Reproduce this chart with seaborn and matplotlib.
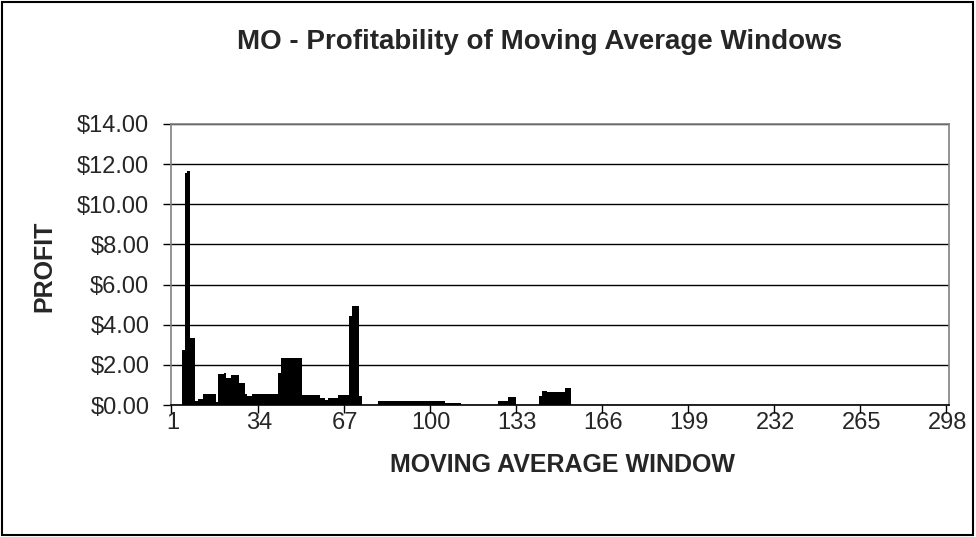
import matplotlib
matplotlib.use('Agg')
import matplotlib.pyplot as plt
import seaborn as sns
from matplotlib.patches import Rectangle
from matplotlib.ticker import FuncFormatter

# moving average window (category axis 1..298)
windows = list(range(1, 299))

# profit per window
profit = [
    0.00, 0.00, 0.00, 0.00, 2.75, 11.55, 11.65, 3.35, 3.35, 0.21,
    0.31, 0.31, 0.54, 0.54, 0.54, 0.54, 0.54, 0.15, 1.53, 1.53,
    1.58, 1.34, 1.34, 1.50, 1.50, 1.50, 1.12, 1.12, 0.54, 0.44,
    0.44, 0.54, 0.54, 0.54, 0.54, 0.54, 0.54, 0.54, 0.54, 0.54,
    0.54, 1.60, 2.33, 2.33, 2.33, 2.33, 2.33, 2.33, 2.33, 2.33,
    0.52, 0.52, 0.52, 0.52, 0.52, 0.52, 0.52, 0.35, 0.35, 0.24,
    0.35, 0.35, 0.35, 0.35, 0.52, 0.52, 0.52, 0.52, 4.45, 4.95,
    4.95, 4.95, 0.46, 0.00, 0.00, 0.00, 0.00, 0.00, 0.00, 0.22,
    0.22, 0.22, 0.22, 0.22, 0.22, 0.22, 0.22, 0.22, 0.22, 0.22,
    0.22, 0.22, 0.22, 0.22, 0.22, 0.22, 0.22, 0.22, 0.22, 0.22,
    0.22, 0.22, 0.22, 0.22, 0.22, 0.12, 0.12, 0.12, 0.12, 0.12,
    0.12, 0.00, 0.00, 0.00, 0.00, 0.00, 0.00, 0.00, 0.00, 0.00,
    0.00, 0.00, 0.00, 0.00, 0.00, 0.21, 0.21, 0.21, 0.21, 0.40,
    0.40, 0.40, 0.00, 0.00, 0.00, 0.00, 0.00, 0.00, 0.00, 0.00,
    0.00, 0.45, 0.68, 0.68, 0.63, 0.63, 0.63, 0.63, 0.63, 0.63,
    0.63, 0.87, 0.87, 0.00, 0.00, 0.00, 0.00, 0.00, 0.00, 0.00,
    0, 0, 0, 0, 0, 0, 0, 0, 0, 0, 0, 0, 0, 0, 0, 0, 0, 0, 0, 0,
    0, 0, 0, 0, 0, 0, 0, 0, 0, 0, 0, 0, 0, 0, 0, 0, 0, 0, 0, 0,
    0, 0, 0, 0, 0, 0, 0, 0, 0, 0, 0, 0, 0, 0, 0, 0, 0, 0, 0, 0,
    0, 0, 0, 0, 0, 0, 0, 0, 0, 0, 0, 0, 0, 0, 0, 0, 0, 0, 0, 0,
    0, 0, 0, 0, 0, 0, 0, 0, 0, 0, 0, 0, 0, 0, 0, 0, 0, 0, 0, 0,
    0, 0, 0, 0, 0, 0, 0, 0, 0, 0, 0, 0, 0, 0, 0, 0, 0, 0, 0, 0,
    0, 0, 0, 0, 0, 0, 0, 0, 0, 0, 0, 0, 0, 0, 0, 0, 0, 0,
]

x_tick_labels = ['1', '34', '67', '100', '133', '166', '199', '232', '265', '298']
y_ticks = [0, 2, 4, 6, 8, 10, 12, 14]

sns.set_style('white')
plt.rcParams['font.family'] = ['Liberation Sans', 'DejaVu Sans']

fig = plt.figure(figsize=(9.76, 5.37), dpi=100)
ax = fig.add_axes([0.1757, 0.2458, 0.7966, 0.5233])

sns.barplot(x=windows, y=profit, ax=ax, color='black', saturation=1,
            width=1.0, linewidth=0, errorbar=None)

ax.set_xlim(-0.5, len(windows) - 0.5)
ax.set_ylim(0, 14)

# 横轴: 标签在类别中心, 刻度线在类别边界
label_pos = [windows.index(int(t)) for t in x_tick_labels]
ax.set_xticks(label_pos, x_tick_labels)
ax.set_xticks([p - 0.5 for p in label_pos], minor=True)
ax.tick_params(axis='x', which='major', length=0, pad=5, labelsize=17)
ax.tick_params(axis='x', which='minor', length=6, width=1, color='black', direction='out', bottom=True)

ax.set_yticks(y_ticks)
ax.yaxis.set_major_formatter(FuncFormatter(lambda v, p: '${:.2f}'.format(v)))
ax.tick_params(axis='y', length=6, width=1, color='black', direction='out', left=True, pad=10, labelsize=17)

ax.set_axisbelow(True)
ax.yaxis.grid(True, color='black', linewidth=1)

for side in ['left', 'top', 'right']:
    ax.spines[side].set_color('#808080')
    ax.spines[side].set_linewidth(1.2)
ax.spines['bottom'].set_color('black')
ax.spines['bottom'].set_linewidth(1.2)

ax.set_xlabel('MOVING AVERAGE WINDOW', fontsize=18, fontweight='bold', va='center')
ax.xaxis.set_label_coords(0.5035, -0.2135)
ax.set_ylabel('PROFIT', fontsize=18, fontweight='bold', va='center', ha='center')
ax.yaxis.set_label_coords(-0.164, 0.492)

fig.text(0.553, 0.922, 'MO - Profitability of Moving Average Windows',
         ha='center', va='center', fontsize=20, fontweight='bold')

# 外框
fig.patches.append(Rectangle((0.002, 0.003), 0.995, 0.993, transform=fig.transFigure,
                             fill=False, edgecolor='black', linewidth=1.5))

fig.savefig('out.png', dpi=100)
